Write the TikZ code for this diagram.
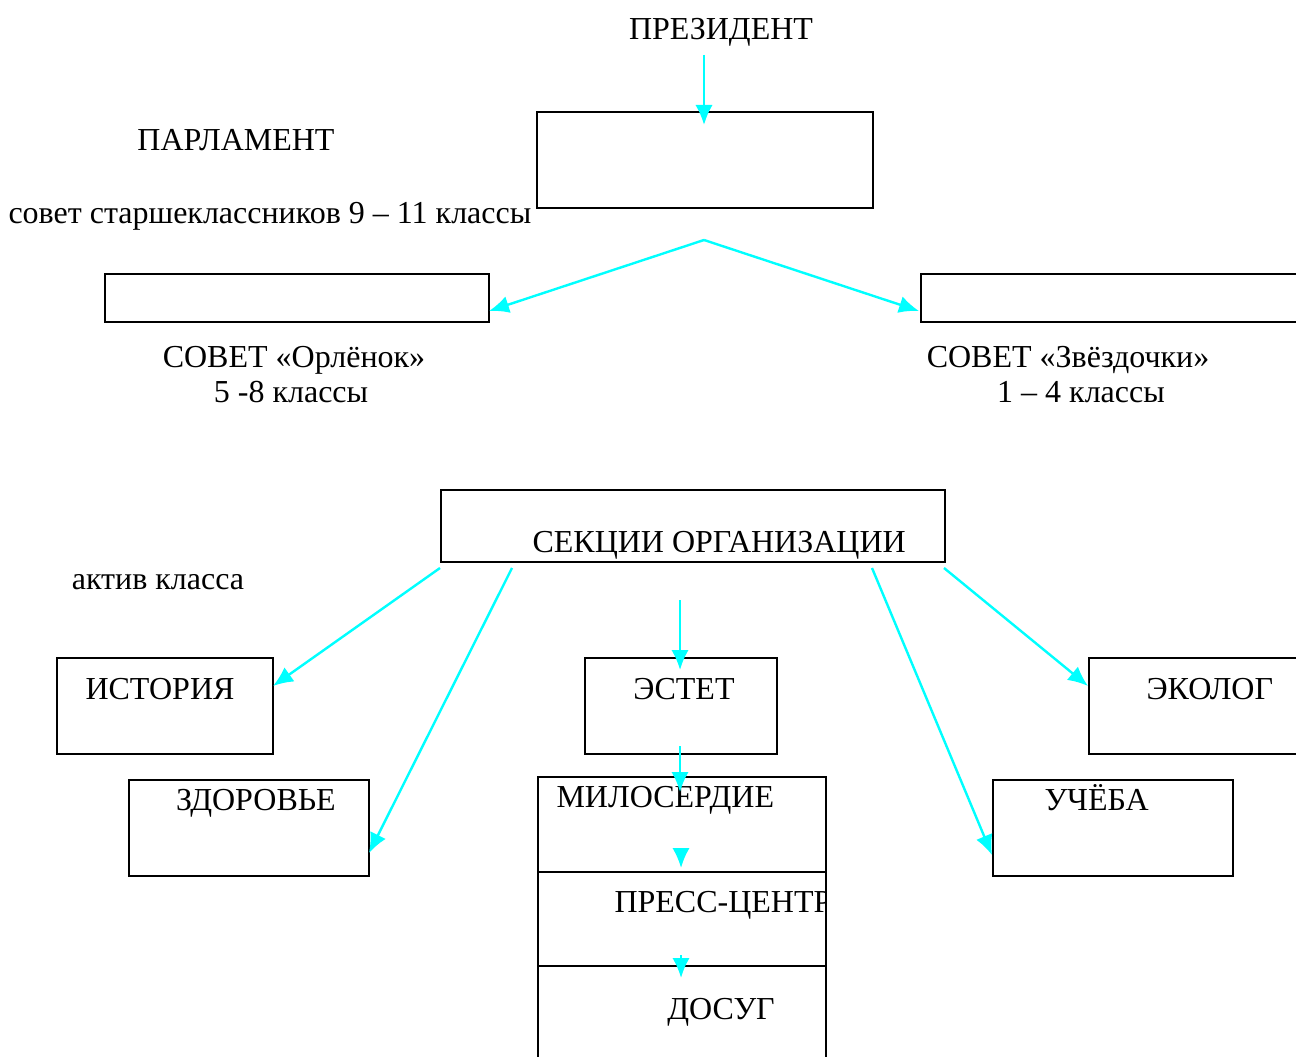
\documentclass[tikz,border=0pt]{standalone}
\usepackage{fontspec}
\setmainfont{Liberation Serif}
\usetikzlibrary{arrows.meta}
\definecolor{aqua}{RGB}{0,255,255}

\begin{document}
\begin{tikzpicture}[x=0.375pt,y=-0.375pt,
  box/.style={draw,line width=0.75pt,anchor=north west,inner sep=0pt,minimum height=36pt},
  txt/.style={inner sep=0pt,anchor=base,font=\fontsize{12}{14}\selectfont},
  ltxt/.style={txt,anchor=base west},
  link/.style={aqua,line width=0.9pt,-{Latex[length=7.5pt,width=6.5pt]}}]
\clip (0,0) rectangle (1296,1057);
\node[txt] (prez) at (721,40) {ПРЕЗИДЕНТ};
\node[box,minimum width=126pt] (presbox) at (536,111) {};
\node[txt] (parl) at (236,151) {ПАРЛАМЕНТ};
\node[ltxt] (starsh) at (8,224) {совет старшеклассников 9 – 11 классы};
\node[box,minimum width=144pt,minimum height=18pt] (orlbox) at (104,273) {};
\node[box,minimum width=144pt,minimum height=18pt] (zvezbox) at (920,273) {};
\node[txt] (orl) at (294,368) {СОВЕТ «Орлёнок»};
\node[txt] (orlcls) at (291,403) {5 -8 классы};
\node[txt] (zvez) at (1068,368) {СОВЕТ «Звёздочки»};
\node[txt] (zvezcls) at (1081,403) {1 – 4 классы};
\node[box,minimum width=189pt,minimum height=27pt] (sekbox) at (440,489) {};
\node[ltxt] (sek) at (532,552) {СЕКЦИИ ОРГАНИЗАЦИИ};
\node[txt] (aktiv) at (158,589) {актив класса};
\node[box,minimum width=81pt] (istbox) at (56,657) {};
\node[txt] (ist) at (160,699) {ИСТОРИЯ};
\node[box,minimum width=90pt] (zdrbox) at (128,779) {};
\node[txt] (zdr) at (256,810) {ЗДОРОВЬЕ};
\node[box,minimum width=72pt] (estbox) at (584,657) {};
\node[txt] (est) at (684,699) {ЭСТЕТ};
\node[box,minimum width=108pt,minimum height=35.6pt] (milbox) at (537,776) {};
\node[box,minimum width=108pt,minimum height=35.2pt] (pressbox) at (537,871) {};
\node[box,minimum width=108pt,minimum height=38pt] (dosbox) at (537,965) {};
\node[ltxt] (mil) at (556,807) {МИЛОСЕРДИЕ};
\begin{scope}
\clip (537,871) rectangle (825,965);
\node[ltxt] (press) at (614,912) {ПРЕСС-ЦЕНТР};
\end{scope}
\node[txt] (dos) at (721,1019) {ДОСУГ};
\node[box,minimum width=90pt] (uchbox) at (992,779) {};
\node[ltxt] (uch) at (1044,810) {УЧЁБА};
\node[box,minimum width=81pt] (ekobox) at (1088,657) {};
\node[ltxt] (eko) at (1146,699) {ЭКОЛОГ};
\coordinate (a0) at (704,55);
\coordinate (a1) at (704,125);
\coordinate (b0) at (704,240);
\coordinate (b1) at (489,311);
\coordinate (b2) at (919,311);
\coordinate (c1) at (440,568);
\coordinate (c2) at (512,568);
\coordinate (c3) at (680,600);
\coordinate (c4) at (872,568);
\coordinate (c5) at (944,568);
\coordinate (d1) at (273,686);
\coordinate (d2) at (369,853);
\coordinate (d3) at (680,670);
\coordinate (d4) at (992,855);
\coordinate (d5) at (1088,686);
\coordinate (e0) at (680,746);
\coordinate (e1) at (680,792);
\coordinate (f0) at (681,848);
\coordinate (f1) at (681,868);
\coordinate (g0) at (681,955);
\coordinate (g1) at (681,978);
\draw[link] (a0) -- (a1);
\draw[link] (b0) -- (b1);
\draw[link] (b0) -- (b2);
\draw[link] (c1) -- (d1);
\draw[link] (c2) -- (d2);
\draw[link] (c3) -- (d3);
\draw[link] (c4) -- (d4);
\draw[link] (c5) -- (d5);
\draw[link] (e0) -- (e1);
\draw[link] (f0) -- (f1);
\draw[link] (g0) -- (g1);
\end{tikzpicture}
\end{document}
